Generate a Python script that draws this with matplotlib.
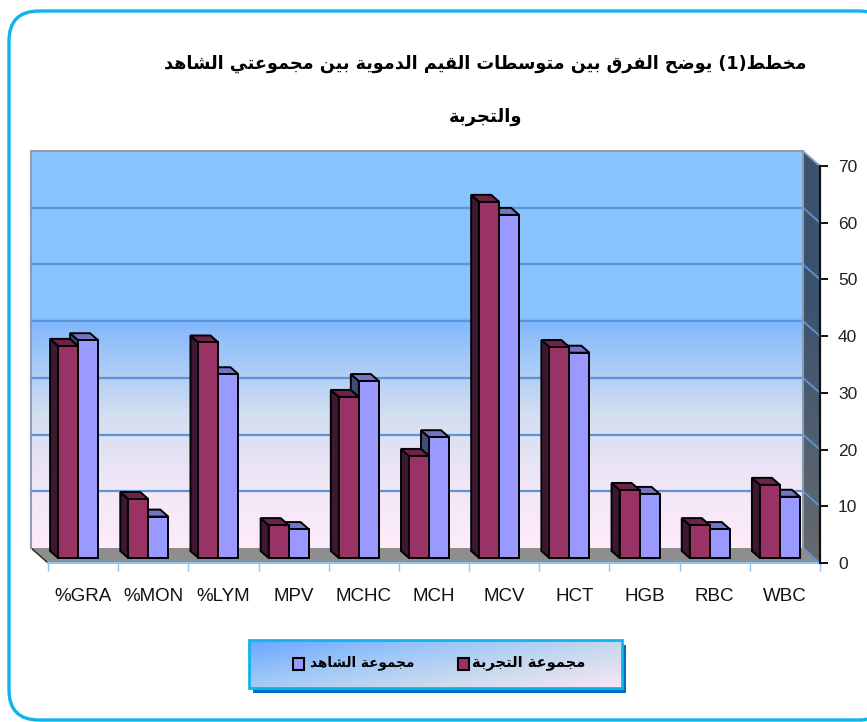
import numpy as np
import matplotlib
matplotlib.use("Agg")
import matplotlib.pyplot as plt
from matplotlib.colors import LinearSegmentedColormap
from matplotlib.patches import FancyBboxPatch, Polygon, Rectangle

categories = ["%GRA", "%MON", "%LYM", "MPV", "MCHC", "MCH", "MCV", "HCT", "HGB", "RBC", "WBC"]
exp_values = [37.4, 10.4, 38.0, 5.8, 28.4, 18.0, 62.8, 37.2, 12.0, 5.8, 12.9]
ctrl_values = [38.4, 7.3, 32.4, 5.1, 31.2, 21.3, 60.5, 36.2, 11.3, 5.1, 10.8]
y_ticks = [0, 10, 20, 30, 40, 50, 60, 70]
title_line1 = "مخطط(1) يوضح الفرق بين متوسطات القيم الدموية بين مجموعتي الشاهد"
title_line2 = "والتجربة"
exp_label = "مجموعة التجربة"
ctrl_label = "مجموعة الشاهد"

W, H = 867, 722
ARIAL = ["Liberation Sans", "DejaVu Sans"]

# matplotlib has no Arabic shaping, so map letters to presentation forms by hand
FORMS = {"ا": 0xFE8D, "ب": 0xFE8F, "ة": 0xFE93, "ت": 0xFE95, "ج": 0xFE9D, "ح": 0xFEA1,
         "خ": 0xFEA5, "د": 0xFEA9, "ر": 0xFEAD, "س": 0xFEB1, "ش": 0xFEB5, "ض": 0xFEBD,
         "ط": 0xFEC1, "ع": 0xFEC9, "ف": 0xFED1, "ق": 0xFED5, "ل": 0xFEDD, "م": 0xFEE1,
         "ن": 0xFEE5, "ه": 0xFEE9, "و": 0xFEED, "ي": 0xFEF1}
RIGHT_ONLY = set("ادرةو")


def shape(text):
    out = []
    for i, c in enumerate(text):
        if c not in FORMS:
            out.append({"(": ")", ")": "("}.get(c, c))
            continue
        prev_joins = i > 0 and text[i - 1] in FORMS and text[i - 1] not in RIGHT_ONLY
        next_joins = i + 1 < len(text) and text[i + 1] in FORMS and c not in RIGHT_ONLY
        offset = {(0, 0): 0, (1, 0): 1, (0, 1): 2, (1, 1): 3}[(int(prev_joins), int(next_joins))]
        out.append(chr(FORMS[c] + offset))
    return "".join(reversed(out))


fig = plt.figure(figsize=(W / 100, H / 100), dpi=100, facecolor="white")

# page layer in pixel coordinates: border, title, legend
page = fig.add_axes([0, 0, 1, 1], zorder=0)
page.set_xlim(0, W)
page.set_ylim(H, 0)
page.axis("off")
page.add_patch(FancyBboxPatch((9, 11), 880, 709, boxstyle="round,pad=0,rounding_size=30",
                              fc="white", ec="#0FB4EC", lw=2.4, clip_on=True))
page.text(485, 64, shape(title_line1), family="DejaVu Sans", weight="bold", fontsize=12.7,
          ha="center", va="center", color="black")
page.text(486, 117, shape(title_line2), family="DejaVu Sans", weight="bold", fontsize=13,
          ha="center", va="center", color="black")

# legend box
page.add_patch(Rectangle((253, 645), 373, 48, fc="#0070C0", ec="none"))
legend_cmap = LinearSegmentedColormap.from_list("leg", ["#6CA6FF", "#9CC6F8", "#CBDAEE", "#F8E6F6"])
gx, gy = np.meshgrid(np.linspace(0, 1, 120), np.linspace(0, 1, 40))
page.imshow(gx * 0.6 + gy * 0.4, cmap=legend_cmap, extent=(249, 622, 688, 640), aspect="auto", zorder=2)
page.set_xlim(0, W)
page.set_ylim(H, 0)
page.add_patch(Rectangle((249, 640), 373, 48, fc="none", ec="#0FB4EC", lw=2, zorder=3))
page.add_patch(Rectangle((458, 658), 11, 12, fc="#993366", ec="black", lw=1.5, zorder=3))
page.add_patch(Rectangle((293, 658), 11, 12, fc="#9999FF", ec="black", lw=1.5, zorder=3))
page.text(585, 663, shape(exp_label), family="DejaVu Sans", weight="bold", fontsize=10.5,
          ha="right", va="center", zorder=3)
page.text(414, 663, shape(ctrl_label), family="DejaVu Sans", weight="bold", fontsize=9.8,
          ha="right", va="center", zorder=3)

# chart axes: the front plane of the 3D box
ax = fig.add_axes([48 / W, (H - 563) / H, (820 - 48) / W, (563 - 166) / H], zorder=1)
ax.patch.set_visible(False)
n = len(categories)
ax.set_xlim(0, n)
ax.set_ylim(0, 70)
px_x = (820 - 48) / n
px_y = (563 - 166) / 70
DX, DY = 17 / px_x, 15 / px_y
BAR_W = 20 / px_x
BAR_DX, BAR_DY = 8 / px_x, 7 / px_y
FRONT_DX, FRONT_DY = 5 / px_x, 5 / px_y

# back wall
wall_cmap = LinearSegmentedColormap.from_list(
    "wall", [(0, "#FDEBFA"), (0.15, "#F2E7F7"), (0.34, "#D2DEF1"), (0.58, "#7EB6FD"),
             (0.5801, "#88C4FE"), (1, "#88C4FE")])
grad = np.linspace(1, 0, 256).reshape(-1, 1)
ax.imshow(grad, cmap=wall_cmap, vmin=0, vmax=1, extent=(-DX, n - DX, DY, 70 + DY),
          aspect="auto", zorder=1, clip_on=False)

# right side wall
side_cmap = LinearSegmentedColormap.from_list("side", ["#68696C", "#4E5E70", "#3A526E", "#3A526E"])
side_img = ax.imshow(np.linspace(1, 0, 256).reshape(-1, 1), cmap=side_cmap, vmin=0, vmax=1,
                     extent=(n - DX, n, 0, 70 + DY), aspect="auto", zorder=1)
side_clip = Polygon([(n - DX, DY), (n, 0), (n, 70), (n - DX, 70 + DY)], transform=ax.transData)
side_img.set_clip_path(side_clip)
side_img.set_clip_box(fig.bbox)
ax.set_xlim(0, n)
ax.set_ylim(0, 70)

# floor
ax.add_patch(Polygon([(-DX, DY), (n - DX, DY), (n, 0), (0, 0)], fc="#8E8E8E", ec="none",
                     zorder=1.5, clip_on=False))
ax.plot([-DX, 0], [DY, 0], color="#222222", lw=1, zorder=1.6, clip_on=False)

# gridlines on back wall and side wall
for v in y_ticks[1:-1]:
    ax.plot([-DX, n - DX], [v + DY, v + DY], color="#5C94D8", lw=1.6, zorder=2, clip_on=False)
    ax.plot([n - DX, n], [v + DY, v], color="#5C94D8", lw=1.3, zorder=2, clip_on=False)
ax.plot([n - DX, n], [DY, 0], color="#5C94D8", lw=1.3, zorder=2, clip_on=False)
ax.plot([n - DX, n], [70 + DY, 70], color="#8FA6BC", lw=1.3, zorder=2, clip_on=False)
ax.plot([-DX, -DX, n - DX, n - DX], [DY, 70 + DY, 70 + DY, DY], color="#8C9CAE", lw=1.5,
        zorder=2, clip_on=False)


def bars3d(lefts, values, face, top, side, z):
    ax.bar(lefts, values, width=BAR_W, bottom=FRONT_DY, align="edge", color=face,
           edgecolor="black", linewidth=1.4, zorder=z + 0.2, clip_on=False)
    for x, v in zip(lefts, values):
        t = FRONT_DY + v
        ax.add_patch(Polygon([(x, FRONT_DY), (x, t), (x - BAR_DX, t + BAR_DY), (x - BAR_DX, FRONT_DY + BAR_DY)],
                             fc=side, ec="black", lw=1.4, zorder=z, clip_on=False))
        ax.add_patch(Polygon([(x, t), (x + BAR_W, t), (x + BAR_W - BAR_DX, t + BAR_DY), (x - BAR_DX, t + BAR_DY)],
                             fc=top, ec="black", lw=1.4, zorder=z + 0.1, clip_on=False))


centers = np.arange(n) + 0.5 - FRONT_DX
bars3d(centers, ctrl_values, "#9999FF", "#7474C4", "#3E4C7C", 3)
bars3d(centers - BAR_W, exp_values, "#993366", "#6E2248", "#3E1730", 4)

# axes: value ticks on the right, category ticks below
for s in ["left", "top", "bottom"]:
    ax.spines[s].set_visible(False)
ax.spines["right"].set_color("#111111")
ax.spines["right"].set_linewidth(1.6)
ax.spines["right"].set_zorder(6)
ax.yaxis.tick_right()
ax.set_yticks(y_ticks)
ax.tick_params(axis="y", length=6, width=1.3, color="black", pad=7)
for lab in ax.get_yticklabels():
    lab.set_family(ARIAL)
    lab.set_fontsize(12.5)
    lab.set_color("#222222")

ax.plot([0, n], [0, 0], color="#8FC4F0", lw=1.5, zorder=6, clip_on=False)
ax.set_xticks(np.arange(n + 1))
ax.set_xticklabels([])
ax.tick_params(axis="x", which="major", length=6, width=1, color="#8FC4F0")
ax.set_xticks(np.arange(n) + 0.5, minor=True)
ax.set_xticklabels(categories, minor=True)
ax.tick_params(axis="x", which="minor", length=0, pad=18)
for lab in ax.get_xticklabels(minor=True):
    lab.set_family(ARIAL)
    lab.set_fontsize(13.5)
    lab.set_color("#111111")

fig.savefig("out.png", dpi=100)
